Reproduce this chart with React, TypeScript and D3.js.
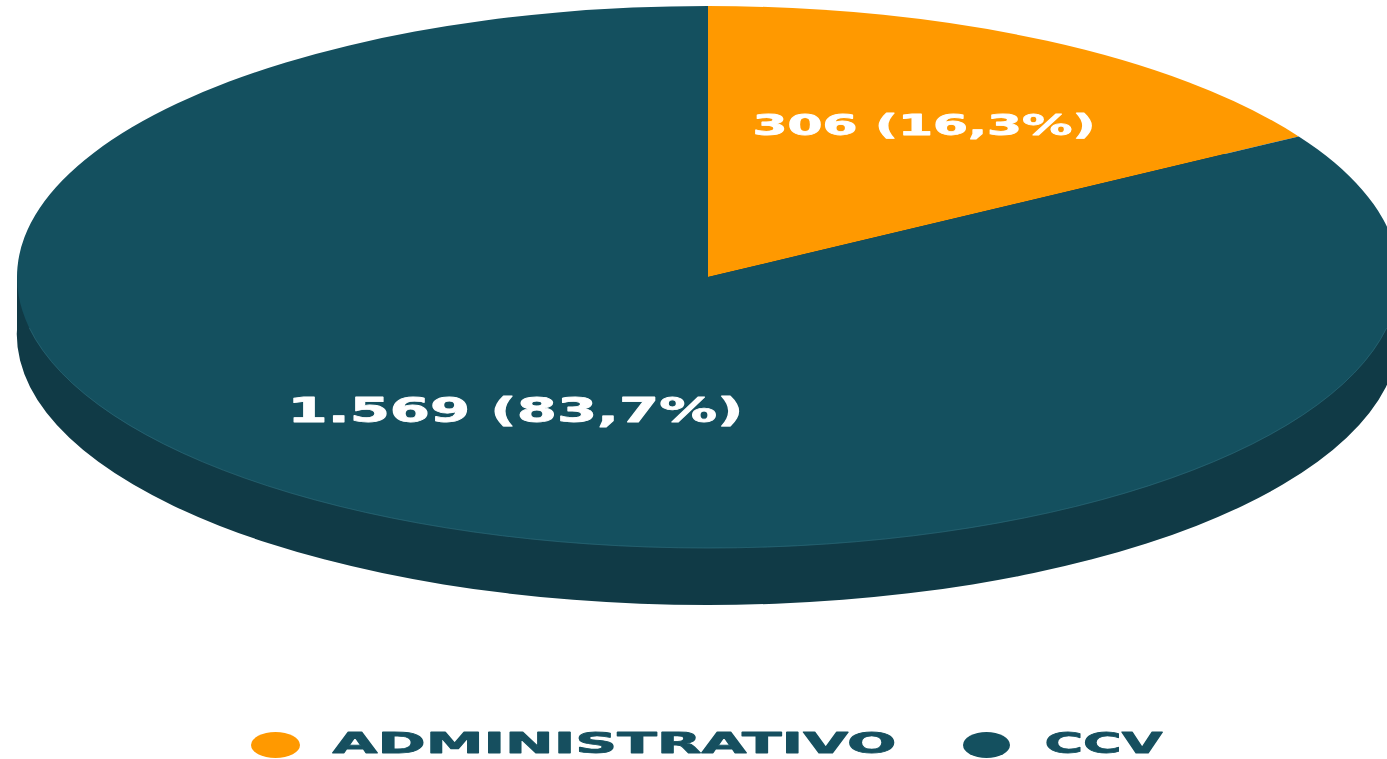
import React from "react";
import * as d3 from "d3";

const categories = ["ADMINISTRATIVO", "CCV"];
const values = [306, 1569];
const sliceLabels = ["306 (16,3%)", "1.569 (83,7%)"];
const colors = ["#FF9900", "#14505F"];
const sideColor = "#103A46";
const rimColor = "#2E6B7B";
const textFont = "'DejaVu Sans', Verdana, sans-serif";

const W = 1387;
const H = 759;
const cx = 708;
const cy = 277;
const rx = 691;
const ry = 271;
const depth = 57;

export default function App() {
  const pie = d3.pie<number>().sort(null).startAngle(0).endAngle(2 * Math.PI);
  const arcs = pie(values);
  const arc = d3.arc<d3.PieArcDatum<number>>().innerRadius(0).outerRadius(rx);
  const full = d3.arc()({ innerRadius: 0, outerRadius: rx, startAngle: 0, endAngle: 2 * Math.PI }) as string;
  const rim = d3.arc()({ innerRadius: rx, outerRadius: rx, startAngle: Math.PI * 0.56, endAngle: Math.PI * 1.44 }) as string;
  const squash = `scale(1,${ry / rx})`;

  const labelPos = [
    { x: 752.5, y: 135, w: 343, size: 28 },
    { x: 287.5, y: 422, w: 456, size: 33 },
  ];
  const legendPos = [
    { cx: 275.5, rx: 24.5, tx: 332.5, tw: 564 },
    { cx: 986.5, rx: 23.5, tx: 1044.5, tw: 118 },
  ];

  return (
    <svg
      width={W}
      height={H}
      viewBox={`0 0 ${W} ${H}`}
      style={{ position: "absolute", left: 0, top: 0, background: "#fff", display: "block" }}
    >
      <defs>
        <filter id="soft" x="-5%" y="-30%" width="110%" height="160%">
          <feGaussianBlur stdDeviation="0.7" />
        </filter>
      </defs>
      {/* extruded side */}
      <g fill={sideColor}>
        <g transform={`translate(${cx},${cy + depth}) ${squash}`}>
          <path d={full} />
        </g>
        <rect x={cx - rx} y={cy} width={2 * rx} height={depth} />
      </g>
      {/* top face */}
      <g transform={`translate(${cx},${cy}) ${squash}`}>
        {arcs.map((a, i) => (
          <path key={categories[i]} d={arc(a) as string} fill={colors[i]} />
        ))}
        <path d={rim} fill="none" stroke={rimColor} strokeWidth={1} strokeOpacity={0.4} vectorEffect="non-scaling-stroke" />
      </g>
      {/* slice labels */}
      <g filter="url(#soft)">
        {sliceLabels.map((t, i) => (
          <text
            key={t}
            x={labelPos[i].x}
            y={labelPos[i].y}
            textLength={labelPos[i].w}
            lengthAdjust="spacingAndGlyphs"
            fontFamily={textFont}
            fontWeight="bold"
            fontSize={labelPos[i].size}
            fill="#FFFFFF"
            stroke="#FFFFFF"
            strokeWidth={0.8}
            strokeLinejoin="round"
          >
            {t}
          </text>
        ))}
      </g>
      {/* legend */}
      <g>
        {categories.map((c, i) => (
          <g key={c}>
            <ellipse cx={legendPos[i].cx} cy={745} rx={legendPos[i].rx} ry={13} fill={colors[i]} />
            <text
              x={legendPos[i].tx}
              y={752.5}
              textLength={legendPos[i].tw}
              lengthAdjust="spacingAndGlyphs"
              fontFamily={textFont}
              fontWeight="bold"
              fontSize={27.5}
              fill="#14505F"
              stroke="#14505F"
              strokeWidth={0.8}
              strokeLinejoin="round"
              filter="url(#soft)"
            >
              {c}
            </text>
          </g>
        ))}
      </g>
    </svg>
  );
}
